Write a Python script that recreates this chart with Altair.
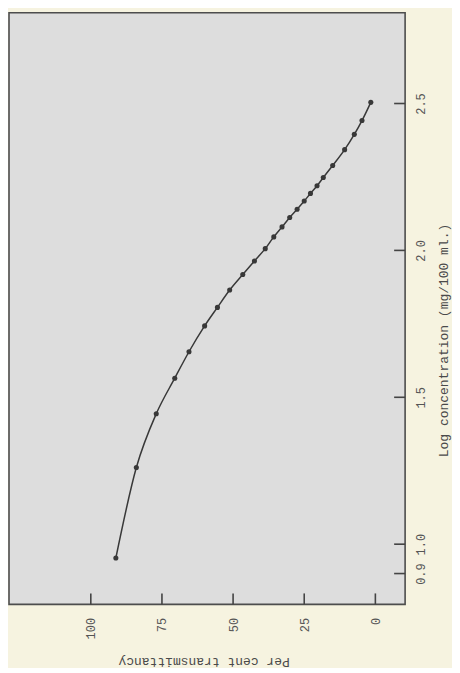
import altair as alt
import pandas as pd

# Values read from the (rotated) reference chart
log_conc = [0.953, 1.261, 1.444, 1.565, 1.655, 1.743, 1.806, 1.865, 1.918, 1.964,
            2.006, 2.046, 2.080, 2.112, 2.140, 2.168, 2.194, 2.220, 2.248, 2.289,
            2.343, 2.395, 2.442, 2.504]
transmittancy = [91.2, 84.0, 77.0, 70.5, 65.5, 60.0, 55.5, 51.2, 46.6, 42.5,
                 38.7, 35.7, 32.8, 30.1, 27.5, 25.0, 22.8, 20.5, 18.3, 15.0,
                 10.8, 7.4, 4.7, 1.6]
x_ticks = [0, 25, 50, 75, 100]
y_ticks = [0.9, 1.0, 1.5, 2.0, 2.5]

W, H = 397, 593
FONT = "Liberation Mono"
INK = "#383838"

df = pd.DataFrame({"T": transmittancy, "L": log_conc})
xt = pd.DataFrame({"T": x_ticks})
yt = pd.DataFrame({"L": y_ticks})

xscale = alt.Scale(domain=[-10.45, 128.75], reverse=True, nice=False, zero=False)
yscale = alt.Scale(domain=[0.795, 2.809], nice=False, zero=False)

xaxis = alt.Axis(values=x_ticks, title="Per cent transmittancy", grid=False,
                 domain=False, ticks=False, tickSize=0,
                 labelAngle=270, labelAlign="right", labelBaseline="middle",
                 labelPadding=13, labelFont=FONT, labelFontSize=12,
                 labelColor="#555555", labelOverlap=False,
                 titleAngle=180, titleX=195, titleY=57, titleAlign="center",
                 titleBaseline="middle", titleFont=FONT, titleFontSize=13,
                 titleFontWeight="normal", titleColor="#4a4a4a")
yaxis = alt.Axis(orient="right", values=y_ticks, format=".1f",
                 title="Log concentration (mg/100 ml.)", grid=False,
                 domain=False, ticks=False, tickSize=0,
                 labelAngle=270, labelAlign="center", labelBaseline="top",
                 labelPadding=10, labelFont=FONT, labelFontSize=12,
                 labelColor="#555555", labelOverlap=False,
                 titleAngle=270, titleX=38, titleY=328, titleAlign="center",
                 titleBaseline="middle", titleFont=FONT, titleFontSize=13,
                 titleFontWeight="normal", titleColor="#4a4a4a")

X = alt.X("T:Q", scale=xscale, axis=xaxis)
Y = alt.Y("L:Q", scale=yscale, axis=yaxis)

line = alt.Chart(df).mark_line(color=INK, strokeWidth=1.5, interpolate="monotone").encode(
    x=X, y=Y, order="L:Q")
pts = alt.Chart(df).mark_circle(color=INK, size=26, opacity=1).encode(x=X, y=Y)

# inward-pointing tick marks, placed through the scales
xticks = alt.Chart(xt).mark_tick(color="#444444", thickness=1.6, size=11,
                                 orient="vertical", opacity=1).encode(
    x=X, y=alt.value(H - 5.5))
yticks = alt.Chart(yt).mark_tick(color="#444444", thickness=1.6, size=11,
                                 orient="horizontal", opacity=1).encode(
    y=Y, x=alt.value(W - 5.5))

chart = alt.layer(xticks, yticks, line, pts).properties(
    width=W, height=H,
    padding={"left": 1, "top": 4, "right": 2, "bottom": 0},
    background="#f6f3e0",
).configure_view(
    fill="#dddddd", stroke="#4d4d4d", strokeWidth=1.6
)

chart.save("out.html", embed_options={"renderer": "svg", "actions": False})
